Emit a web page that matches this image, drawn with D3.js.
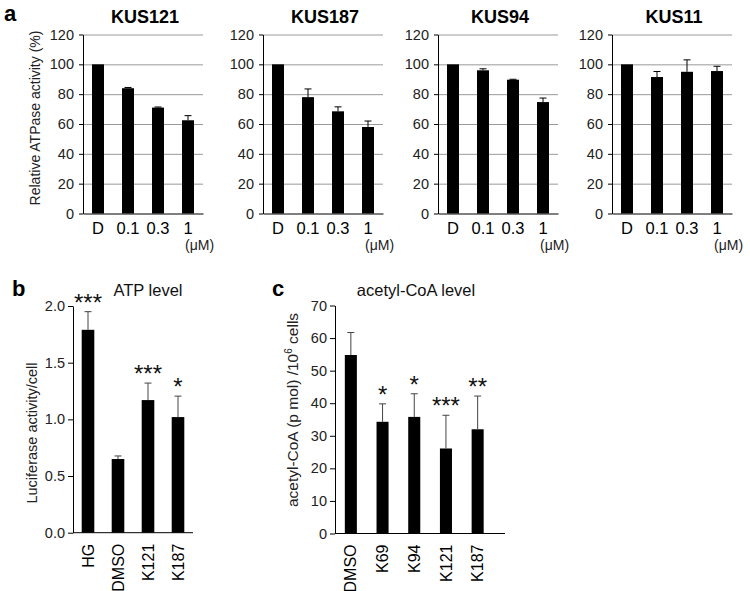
<!DOCTYPE html>
<html><head><meta charset="utf-8">
<script src="https://cdn.jsdelivr.net/npm/d3@7"></script>
<style>
body{margin:0;background:#fff;}
svg{display:block;font-family:Arial,"Liberation Sans",sans-serif;}
</style></head>
<body>
<svg id="chart" width="750" height="591"></svg>
<script>
// ---------- data ----------
const aCats = ["D", "0.1", "0.3", "1"];
const aTitles = ["KUS121", "KUS187", "KUS94", "KUS11"];
const kus121 = [100, 84, 71, 62.5];
const kus121Err = [0, 0.5, 0.4, 3.1];
const kus187 = [100, 78, 68.5, 58];
const kus187Err = [0, 5.5, 3, 4];
const kus94 = [100, 96, 89.7, 74.7];
const kus94Err = [0, 1, 0.3, 2.7];
const kus11 = [100, 91.5, 95, 95.5];
const kus11Err = [0, 3.7, 8, 3.2];
const aTicks = [0, 20, 40, 60, 80, 100, 120];

const bCats = ["HG", "DMSO", "K121", "K187"];
const bVals = [1.79, 0.65, 1.17, 1.02];
const bErr = [0.16, 0.027, 0.15, 0.185];
const bStars = ["***", "", "***", "*"];
const bTicks = [0, 0.5, 1.0, 1.5, 2.0];

const cCats = ["DMSO", "K69", "K94", "K121", "K187"];
const cVals = [54.8, 34.3, 35.8, 26.1, 32.0];
const cErr = [6.9, 5.5, 7.1, 10.2, 10.2];
const cStars = ["", "*", "*", "***", "**"];
const cTicks = [0, 10, 20, 30, 40, 50, 60, 70];

// ---------- drawing ----------
const svg = d3.select("#chart");
const FONT = 'Arial,"Liberation Sans",sans-serif';

function panelLetter(t, x, y) {
  svg.append("text").attr("x", x).attr("y", y).attr("font-size", 22)
    .attr("font-weight", "bold").attr("fill", "#000").text(t);
}

// Panel a
const aVals = [kus121, kus187, kus94, kus11];
const aErrs = [kus121Err, kus187Err, kus94Err, kus11Err];
const aX0 = [83, 263, 438, 612];
const aTop = 34.5, aBot = 213.5, aW = 120;
panelLetter("a", 4, 21);

aVals.forEach((vals, i) => {
  const g = svg.append("g").attr("transform", `translate(${aX0[i]},0)`);
  const x = d3.scaleBand().domain(aCats).range([0, aW]).paddingInner(0.6).paddingOuter(0.3);
  const y = d3.scaleLinear().domain([0, 120]).range([aBot, aTop]);
  const grid = g.append("g").call(d3.axisLeft(y).tickValues(aTicks.slice(1)).tickSize(-aW).tickFormat(""));
  grid.select(".domain").remove();
  grid.selectAll("line").attr("stroke", "#9a9a9a").attr("stroke-width", 1);
  const ya = g.append("g").call(d3.axisLeft(y).tickValues(aTicks).tickSize(4).tickPadding(5).tickSizeOuter(0));
  ya.selectAll("text").attr("font-size", 14.5).attr("font-family", FONT).attr("fill", "#222");
  ya.selectAll("line").attr("stroke", "#000");
  ya.select(".domain").attr("stroke", "#000");
  const xa = g.append("g").attr("transform", `translate(0,${aBot})`)
    .call(d3.axisBottom(x).tickSize(0).tickPadding(9));
  xa.select(".domain").attr("stroke", "#000");
  xa.selectAll("text").attr("font-size", 16.5).attr("font-family", FONT).attr("fill", "#000");
  g.selectAll("rect.bar").data(vals).join("rect").attr("class", "bar")
    .attr("x", (d, j) => x(aCats[j])).attr("width", x.bandwidth())
    .attr("y", d => y(d)).attr("height", d => aBot - y(d)).attr("fill", "#000");
  const errs = aErrs[i];
  vals.forEach((v, j) => {
    if (errs[j] <= 0) return;
    const cx = x(aCats[j]) + x.bandwidth() / 2;
    g.append("line").attr("x1", cx).attr("x2", cx).attr("y1", y(v)).attr("y2", y(v + errs[j])).attr("stroke", "#000");
    g.append("line").attr("x1", cx - 3.5).attr("x2", cx + 3.5).attr("y1", y(v + errs[j])).attr("y2", y(v + errs[j])).attr("stroke", "#000");
  });
  g.append("text").attr("x", aW / 2 + 2).attr("y", 23).attr("text-anchor", "middle")
    .attr("font-size", 18).attr("font-weight", "bold").text(aTitles[i]);
  const lastC = x(aCats[3]) + x.bandwidth() / 2;
  g.append("text").attr("x", lastC - 3).attr("y", 250).attr("font-size", 14).attr("fill", "#222").text("(μM)");
});
svg.append("text").attr("transform", `translate(40,118) rotate(-90)`).attr("text-anchor", "middle")
  .attr("font-size", 14).attr("fill", "#222").text("Relative ATPase activity (%)");

function barPanel(opts) {
  const { cats, vals, errs, stars, ticks, x0, w, top, bot, ymax, fmt, pIn, pOut, axisLen } = opts;
  const g = svg.append("g").attr("transform", `translate(${x0},0)`);
  const x = d3.scaleBand().domain(cats).range([0, w]).paddingInner(pIn).paddingOuter(pOut);
  const y = d3.scaleLinear().domain([0, ymax]).range([bot, top]);
  const ya = g.append("g").call(d3.axisLeft(y).tickValues(ticks).tickFormat(fmt).tickSize(5).tickPadding(3).tickSizeOuter(0));
  ya.selectAll("text").attr("font-size", 14.5).attr("font-family", FONT).attr("fill", "#222");
  ya.selectAll("line").attr("stroke", "#000");
  ya.select(".domain").attr("stroke", "#000");
  g.append("line").attr("x1", 0).attr("x2", axisLen).attr("y1", bot).attr("y2", bot).attr("stroke", "#000");
  const xa = g.append("g").attr("transform", `translate(0,${bot})`)
    .call(d3.axisBottom(x).tickSize(0).tickPadding(0));
  xa.select(".domain").remove();
  xa.selectAll("text").attr("font-size", 16).attr("font-family", FONT).attr("fill", "#000")
    .attr("text-anchor", "end").attr("dy", "0.35em").attr("y", 0)
    .attr("transform", "translate(0,11) rotate(-90)");
  g.selectAll("rect.bar").data(vals).join("rect").attr("class", "bar")
    .attr("x", (d, j) => x(cats[j])).attr("width", x.bandwidth())
    .attr("y", d => y(d)).attr("height", d => bot - y(d)).attr("fill", "#000");
  vals.forEach((v, j) => {
    const cx = x(cats[j]) + x.bandwidth() / 2;
    const et = y(v + errs[j]);
    g.append("line").attr("x1", cx).attr("x2", cx).attr("y1", y(v)).attr("y2", et).attr("stroke", "#444");
    g.append("line").attr("x1", cx - 3.5).attr("x2", cx + 3.5).attr("y1", et).attr("y2", et).attr("stroke", "#444");
    if (stars[j]) {
      g.append("text").attr("x", cx).attr("y", et - 1).attr("text-anchor", "middle")
        .attr("font-size", 24).attr("fill", "#111").text(stars[j]);
    }
  });
  return g;
}

// Panel b
panelLetter("b", 12, 296);
barPanel({ cats: bCats, vals: bVals, errs: bErr, stars: bStars, ticks: bTicks, x0: 73, w: 120,
  top: 306, bot: 532.7, ymax: 2.0, fmt: d3.format(".1f"), pIn: 0.58, pOut: 0.29, axisLen: 120 });
svg.append("text").attr("x", 148).attr("y", 296).attr("text-anchor", "middle").attr("font-size", 16.5)
  .attr("fill", "#111").text("ATP level");
svg.append("text").attr("transform", `translate(37,433) rotate(-90)`).attr("text-anchor", "middle")
  .attr("font-size", 14.5).attr("fill", "#222").text("Luciferase activity/cell");

// Panel c
panelLetter("c", 272, 296);
barPanel({ cats: cCats, vals: cVals, errs: cErr, stars: cStars, ticks: cTicks, x0: 335, w: 158.5,
  top: 305.5, bot: 533.5, ymax: 70, fmt: d3.format("d"), pIn: 0.62, pOut: 0.31, axisLen: 170 });
svg.append("text").attr("x", 416).attr("y", 296).attr("text-anchor", "middle").attr("font-size", 16.5)
  .attr("fill", "#111").text("acetyl-CoA level");
const cyl = svg.append("text").attr("transform", `translate(298,410) rotate(-90)`).attr("text-anchor", "middle")
  .attr("font-size", 15.5).attr("fill", "#222");
cyl.append("tspan").text("acetyl-CoA (p mol) /10");
cyl.append("tspan").attr("font-size", 10).attr("dy", -6).text("6");
cyl.append("tspan").attr("dy", 6).text(" cells");
</script>
</body></html>
